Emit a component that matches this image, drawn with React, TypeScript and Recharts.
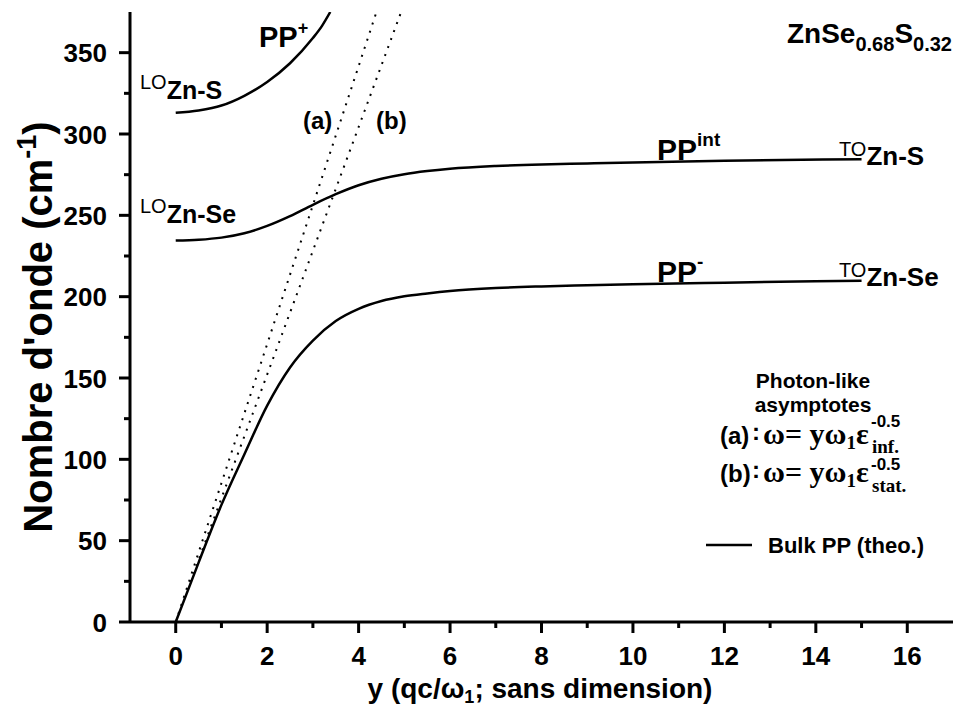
import React from 'react'
import { LineChart, Line, XAxis, YAxis } from 'recharts'

const SANS = '"Liberation Sans", Arial, sans-serif'
const SERIF = '"Liberation Serif", "Times New Roman", serif'

// axes
const X_DOMAIN: [number, number] = [-1, 17]
const Y_DOMAIN: [number, number] = [0, 375]
const X_TICKS = [0, 1, 2, 3, 4, 5, 6, 7, 8, 9, 10, 11, 12, 13, 14, 15, 16]
const Y_TICKS = [0, 25, 50, 75, 100, 125, 150, 175, 200, 225, 250, 275, 300, 325, 350]

// PP+ branch (starts at LO Zn-S)
const PP_PLUS_Y = [0, 0.5, 1, 1.5, 2, 2.5, 3, 3.2, 3.38]
const PP_PLUS_W = [313, 314.5, 317.5, 323.5, 332, 343.5, 359, 366.5, 375]

// PP int branch (LO Zn-Se -> TO Zn-S)
const PP_INT_Y = [0, 0.5, 1, 1.5, 2, 2.5, 3, 3.5, 4, 4.5, 5, 5.5, 6, 7, 8, 9, 10, 12, 15]
const PP_INT_W = [234.5, 235, 236.3, 239, 243.5, 249.5, 256.5, 263, 268.5, 272.5, 275.3, 277.2, 278.6, 280.3, 281.3, 281.9, 282.5, 283.5, 284.5]

// PP- branch (0 -> TO Zn-Se)
const PP_MINUS_Y = [0, 0.5, 1, 1.5, 2, 2.5, 3, 3.5, 4, 4.5, 5, 5.5, 6, 7, 8, 9, 10, 12, 15]
const PP_MINUS_W = [0, 36.5, 72, 103, 133, 156.5, 173, 185, 192.5, 197.3, 200.2, 202, 203.5, 205.3, 206.3, 207, 207.6, 208.6, 209.8]

// photon-like asymptotes
const ASYM_A_Y = [0, 4.39]
const ASYM_A_W = [0, 375]
const ASYM_B_Y = [0, 4.93]
const ASYM_B_W = [0, 375]

const toRows = (xs: number[], ws: number[]) => xs.map((x, i) => ({ x, w: ws[i] }))

const ppPlus = toRows(PP_PLUS_Y, PP_PLUS_W)
const ppInt = toRows(PP_INT_Y, PP_INT_W)
const ppMinus = toRows(PP_MINUS_Y, PP_MINUS_W)
const asymA = toRows(ASYM_A_Y, ASYM_A_W)
const asymB = toRows(ASYM_B_Y, ASYM_B_W)

const XTick = ({ x, y, payload }: any) => {
  const v = payload.value
  const major = v % 2 === 0
  return (
    <g>
      <line x1={x} x2={x} y1={y} y2={y + (major ? 11 : 6)} stroke="#000" strokeWidth={3} />
      {major && (
        <text x={x} y={y + 43} textAnchor="middle" fontSize={26} fontWeight="bold" fontFamily={SANS} fill="#000">
          {v}
        </text>
      )}
    </g>
  )
}

const YTick = ({ x, y, payload }: any) => {
  const v = payload.value
  const major = v % 50 === 0
  return (
    <g>
      <line x1={x} x2={x - (major ? 11 : 6)} y1={y} y2={y} stroke="#000" strokeWidth={3} />
      {major && (
        <text x={x - 23} y={y + 9.5} textAnchor="end" fontSize={26} fontWeight="bold" fontFamily={SANS} fill="#000">
          {v}
        </text>
      )}
    </g>
  )
}

const Annotations = () => (
  <svg width={955} height={709} style={{ position: 'absolute', left: 0, top: 0, pointerEvents: 'none' }}>
    <g fontFamily={SANS} fill="#000">
      {/* axis titles */}
      <text x={540} y={698} textAnchor="middle" fontSize={28} fontWeight="bold">
        y (qc/ω<tspan fontSize={18} dy={5}>1</tspan>
        <tspan dy={-5}>; sans dimension)</tspan>
      </text>
      <text transform="translate(52, 327) rotate(-90)" textAnchor="middle" fontSize={40} fontWeight="bold">
        Nombre d'onde (cm<tspan fontSize={27} dy={-16}>-1</tspan>
        <tspan dy={16}>)</tspan>
      </text>

      {/* branch labels */}
      <text x={140} y={89} fontSize={20}>
        LO<tspan fontSize={25} fontWeight="bold" dy={10}>Zn-S</tspan>
      </text>
      <text x={140} y={213} fontSize={20}>
        LO<tspan fontSize={25} fontWeight="bold" dy={10}>Zn-Se</tspan>
      </text>
      <text x={259} y={47} fontSize={29} fontWeight="bold">
        PP<tspan fontSize={18} dy={-13}>+</tspan>
      </text>
      <text x={303} y={129} fontSize={24} fontWeight="bold">(a)</text>
      <text x={376} y={129} fontSize={24} fontWeight="bold">(b)</text>

      <text x={952} y={43} textAnchor="end" fontSize={28} fontWeight="bold">
        ZnSe<tspan fontSize={20} dy={8}>0.68</tspan>
        <tspan dy={-8}>S</tspan>
        <tspan fontSize={20} dy={8}>0.32</tspan>
      </text>

      <text x={657} y={160} fontSize={30} fontWeight="bold">
        PP<tspan fontSize={19} dy={-14}>int</tspan>
      </text>
      <text x={839} y={156} fontSize={20}>
        TO<tspan fontSize={26} fontWeight="bold" dy={9}>Zn-S</tspan>
      </text>
      <text x={657} y={282} fontSize={30} fontWeight="bold">
        PP<tspan fontSize={19} dy={-14}>-</tspan>
      </text>
      <text x={839} y={277} fontSize={20}>
        TO<tspan fontSize={26} fontWeight="bold" dy={9}>Zn-Se</tspan>
      </text>

      {/* asymptote key */}
      <text x={813} y={388} textAnchor="middle" fontSize={21} fontWeight="bold">Photon-like</text>
      <text x={813} y={412} textAnchor="middle" fontSize={21} fontWeight="bold">asymptotes</text>

      <text x={720} y={444} fontSize={24} fontWeight="bold">(a)</text>
      <text x={752} y={440} fontSize={24} fontWeight="bold">:</text>
      <text x={763} y={444} fontSize={30} fontWeight="bold" fontFamily={SERIF}>
        ω= yω<tspan fontSize={19} dy={5}>1</tspan>
        <tspan dy={-5}>ε</tspan>
      </text>
      <text x={871} y={427} fontSize={17} fontWeight="bold">-0.5</text>
      <text x={872} y={453} fontSize={19} fontWeight="bold" fontFamily={SERIF}>inf.</text>

      <text x={720} y={482} fontSize={24} fontWeight="bold">(b)</text>
      <text x={752} y={478} fontSize={24} fontWeight="bold">:</text>
      <text x={763} y={482} fontSize={30} fontWeight="bold" fontFamily={SERIF}>
        ω= yω<tspan fontSize={19} dy={5}>1</tspan>
        <tspan dy={-5}>ε</tspan>
      </text>
      <text x={871} y={470} fontSize={17} fontWeight="bold">-0.5</text>
      <text x={872} y={492} fontSize={19} fontWeight="bold" fontFamily={SERIF}>stat.</text>

      {/* legend */}
      <line x1={706} x2={752} y1={545} y2={545} stroke="#000" strokeWidth={2.5} />
      <text x={768} y={553} fontSize={22} fontWeight="bold">Bulk PP (theo.)</text>
    </g>
  </svg>
)

export default function App() {
  const solid = { stroke: '#000', strokeWidth: 2.5, dot: false, isAnimationActive: false, type: 'monotone' as const }
  const dotted = { stroke: '#000', strokeWidth: 2, strokeDasharray: '2 6.5', dot: false, isAnimationActive: false, type: 'linear' as const }

  return (
    <div style={{ position: 'absolute', left: 0, top: 0, width: 955, height: 709, background: '#fff' }}>
      <LineChart width={955} height={709} margin={{ top: 12, right: 2, bottom: 7, left: 10 }}>
        <XAxis
          dataKey="x"
          type="number"
          domain={X_DOMAIN}
          ticks={X_TICKS}
          interval={0}
          allowDataOverflow
          height={80}
          tickSize={0}
          tickMargin={0}
          tickLine={false}
          tick={<XTick />}
          axisLine={{ stroke: '#000', strokeWidth: 3 }}
        />
        <XAxis xAxisId="top" orientation="top" dataKey="x" type="number" domain={X_DOMAIN} height={0} tick={false} tickLine={false} axisLine={{ stroke: '#000', strokeWidth: 3 }} />
        <YAxis
          type="number"
          domain={Y_DOMAIN}
          ticks={Y_TICKS}
          interval={0}
          allowDataOverflow
          width={120}
          tickSize={0}
          tickMargin={0}
          tickLine={false}
          tick={<YTick />}
          axisLine={{ stroke: '#000', strokeWidth: 3 }}
        />
        <YAxis yAxisId="right" orientation="right" type="number" domain={Y_DOMAIN} width={0} tick={false} tickLine={false} axisLine={{ stroke: '#000', strokeWidth: 3 }} />

        <Line data={asymA} dataKey="w" name="(a)" {...dotted} />
        <Line data={asymB} dataKey="w" name="(b)" {...dotted} />
        <Line data={ppPlus} dataKey="w" name="PP+" {...solid} />
        <Line data={ppInt} dataKey="w" name="PPint" {...solid} />
        <Line data={ppMinus} dataKey="w" name="PP-" {...solid} />
      </LineChart>
      <Annotations />
    </div>
  )
}
